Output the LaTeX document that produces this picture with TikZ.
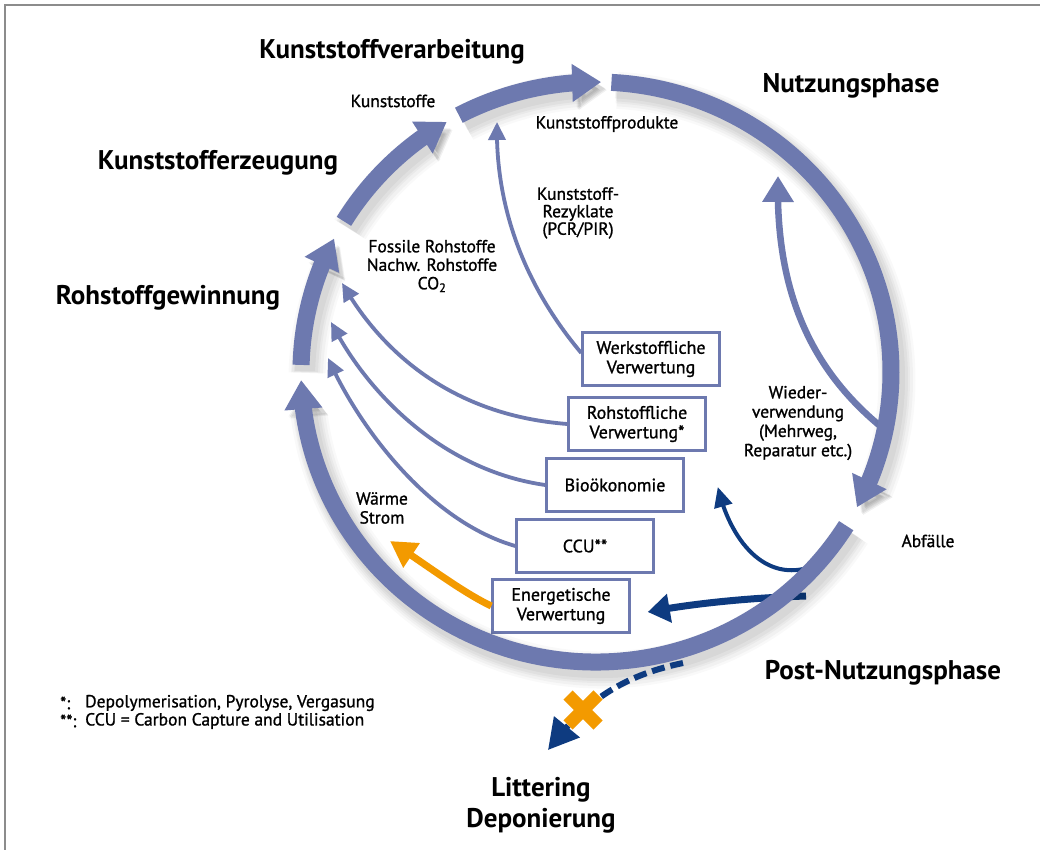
\documentclass[tikz,border=0pt]{standalone}
\usepackage{fontspec}
\setmainfont{PT Sans}
\newfontfamily\labelfont[FakeBold=1.1]{PT Sans}
\usetikzlibrary{arrows.meta,bending}
\definecolor{ring}{HTML}{6D79AF}
\definecolor{navy}{HTML}{0E3B80}
\definecolor{amber}{HTML}{F39A00}
\definecolor{framegray}{HTML}{8C8C8C}
% ring geometry (centre and radii)
\newcommand{\rcx}{596}
\newcommand{\rcy}{372}
\newcommand{\ringseg}[2]{(\rcx,\rcy) ++(#1:295 and 290) arc[start angle=#1, end angle=#2, x radius=295, y radius=290]}
\begin{document}
\begin{tikzpicture}[x=1pt, y=-1pt,
  phase/.style={font=\fontsize{27}{31}\selectfont\bfseries, align=center, inner sep=0pt},
  lbl/.style={font=\labelfont\fontsize{17.5}{18}\selectfont, align=center, inner sep=0pt},
  note/.style={font=\labelfont\fontsize{17.5}{18}\selectfont, anchor=west, inner sep=0pt},
  stepbox/.style={draw=ring, line width=2.5pt, fill=white, minimum width=137pt, minimum height=53pt,
     align=center, inner sep=2pt, font=\labelfont\fontsize{18}{19.5}\selectfont},
  shadowed/.style={
     preaction={draw=black, opacity=.025, line width=37pt, transform canvas={shift={(6pt,-8pt)}}},
     preaction={draw=black, opacity=.03, line width=32pt, transform canvas={shift={(6pt,-8pt)}}},
     preaction={draw=black, opacity=.03, line width=28pt, transform canvas={shift={(5pt,-7pt)}}},
     preaction={draw=black, opacity=.035, line width=24pt, transform canvas={shift={(5pt,-7pt)}}},
     preaction={draw=black, opacity=.04, line width=20pt, transform canvas={shift={(4pt,-6pt)}}}},
  ringarrow/.style={shadowed, draw=ring, line width=17pt, -{Triangle[width=36pt, length=29pt, flex]}},
  thinlink/.style={draw=ring, line width=3.8pt, -{Triangle[width=17pt, length=18pt]}},
  reuse/.style={draw=ring, line width=6.5pt, -{Triangle[width=30pt, length=26pt]}},
  heat/.style={draw=amber, line width=7pt, -{Triangle[width=28pt, length=26pt]}},
  wastethin/.style={draw=navy, line width=4pt, -{Triangle[width=18pt, length=20pt]}},
  wastethick/.style={draw=navy, line width=7pt, -{Triangle[width=28pt, length=22pt]}},
  litter/.style={draw=navy, line width=6pt, dash pattern=on 13pt off 6pt, -{Triangle[width=32pt, length=30pt]}}
]
\useasboundingbox (0,0) rectangle (1040,850);
\fill[white] (0,0) rectangle (1040,850);
% frame
\draw[framegray, line width=2pt] (5,850) -- (5,5) -- (1040,5);

% end points on the ring
\coordinate (tipprod) at (497,122);
\coordinate (tiproh1) at (342,283);
\coordinate (tiproh2) at (331,322);
\coordinate (tiproh3) at (328,358);
\coordinate (tipwae) at (390,541);
\coordinate (reuseA) at (885,430);
\coordinate (reuseB) at (778,176);
\coordinate (wasteA) at (832,556);
\coordinate (wasteB) at (806,596);
\coordinate (litA) at (683,663);
\coordinate (litB) at (548,750);

% recovery routes
\node[stepbox] (werk) at (651,359) {Werkstoffliche\\Verwertung};
\node[stepbox] (rohv) at (637,424) {Rohstoffliche\\Verwertung*};
\node[stepbox] (bio) at (615,485) {Bioökonomie};
\node[stepbox] (ccu) at (585,546) {CCU**};
\node[stepbox] (ener) at (561,606) {Energetische\\Verwertung};

% waste streams leaving the cycle (under the ring)
\draw[wastethin] (wasteA) .. controls (775,595) and (732,548) .. ([xshift=33pt,yshift=-2pt]bio.east);
\draw[wastethick] (wasteB) .. controls (745,598) and (690,604) .. ([xshift=17pt,yshift=-6pt]ener.east);
\draw[reuse] (reuseA) .. controls (810,370) and (775,290) .. (reuseB);

% main cycle
\draw[ringarrow] \ringseg{32}{178.4};
\draw[ringarrow] \ringseg{181.4}{207.4};
\draw[ringarrow] \ringseg{211.3}{239.6};
\draw[ringarrow] \ringseg{242.3}{271};
\draw[ringarrow] \ringseg{273}{387.8};

% phase titles
\node[phase] (verarb) at (392,52) {Kunststoffverarbeitung};
\node[phase] (nutz) at (851,86) {Nutzungsphase};
\node[phase] (erz) at (218,163) {Kunststofferzeugung};
\node[phase] (gew) at (168,298) {Rohstoffgewinnung};
\node[phase] (post) at (883,673) {Post-Nutzungsphase};
\node[phase] (litt) at (541,805) {Littering\\Deponierung};

% flow labels
\node[lbl] (kst) at (393,101) {Kunststoffe};
\node[lbl] (prod) at (607,124) {Kunststoffprodukte};
\node[lbl, font=\labelfont\fontsize{17.5}{17.5}\selectfont] (rez) at (578,213) {Kunststoff-\\Rezyklate\\(PCR/PIR)};
\node[lbl, font=\labelfont\fontsize{17.5}{18.5}\selectfont] (roh) at (432,266) {Fossile Rohstoffe\\Nachw. Rohstoffe\\CO\textsubscript{2}};
\node[lbl, font=\labelfont\fontsize{17.5}{19.3}\selectfont] (wied) at (798,423) {Wieder-\\verwendung\\(Mehrweg,\\Reparatur etc.)};
\node[lbl] (abf) at (928,541) {Abfälle};
\node[lbl, font=\labelfont\fontsize{17.5}{19}\selectfont] (wae) at (382,508) {Wärme\\Strom};

% material and feedstock routes back into the cycle
\draw[thinlink] ([yshift=6pt]werk.west) .. controls (520,280) and (495,200) .. (tipprod);
\draw[thinlink] (rohv.west) .. controls (450,415) and (380,350) .. (tiproh1);
\draw[thinlink] (bio.west) .. controls (440,470) and (365,390) .. (tiproh2);
\draw[thinlink] (ccu.west) .. controls (425,520) and (355,420) .. (tiproh3);
\draw[heat] (ener.west) .. controls (462,592) and (428,566) .. (tipwae);

% littering route, blocked
\draw[litter] (litA) .. controls (625,675) and (585,700) .. (litB);
\draw[amber, line width=13pt] (568,695) -- (598,725);
\draw[amber, line width=13pt] (598,695) -- (568,725);

% footnotes
\node[note] (n1m) at (60,703) {*:};
\node[note] (n1) at (85,703) {Depolymerisation, Pyrolyse, Vergasung};
\node[note] (n2m) at (60,721) {**:};
\node[note] (n2) at (85,721) {CCU = Carbon Capture and Utilisation};
\end{tikzpicture}
\end{document}
